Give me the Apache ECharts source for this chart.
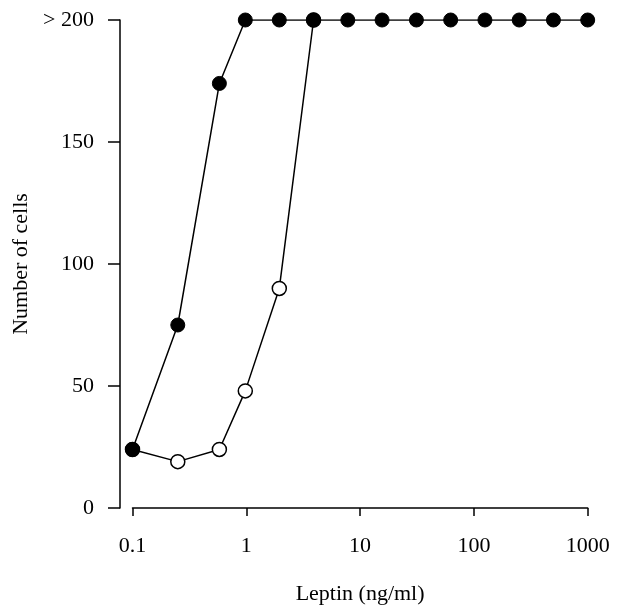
<!DOCTYPE html>
<html>
<head>
<meta charset="utf-8">
<script src="https://cdn.jsdelivr.net/npm/echarts@6/dist/echarts.min.js"></script>
<style>html,body{margin:0;padding:0;background:#fff;}#c{width:623px;height:608px;}</style>
</head>
<body>
<div id="c"></div>
<script>
const openX = [0.1, 0.25, 0.58, 0.98, 1.95, 3.9];
const openY = [24, 19, 24, 48, 90, 200];
const filledX = [0.1, 0.25, 0.58, 0.98, 1.95, 3.9, 7.8, 15.6, 31.25, 62.5, 125, 250, 500, 1000];
const filledY = [24, 75, 174, 200, 200, 200, 200, 200, 200, 200, 200, 200, 200, 200];
const xTicks = [0.1, 1, 10, 100, 1000];
const yTicks = [0, 50, 100, 150, 200];
const yTopLabel = '> 200';

const font = 'Liberation Serif';
const chart = echarts.init(document.getElementById('c'));
chart.setOption({
  animation: false,
  backgroundColor: '#fff',
  grid: {left: 132.5, right: 35.3, top: 20, bottom: 100, containLabel: false, outerBoundsMode: 'none'},
  xAxis: {
    type: 'log', logBase: 10, min: 0.1, max: 1000,
    offset: 8,
    name: 'Leptin (ng/ml)', nameLocation: 'middle', nameGap: 67,
    nameTextStyle: {fontFamily: font, fontSize: 22, color: '#000'},
    axisLine: {lineStyle: {color: '#000', width: 1.5}},
    axisTick: {length: 8, lineStyle: {color: '#000', width: 1.5}},
    minorTick: {show: false},
    splitLine: {show: false},
    axisLabel: {
      fontFamily: font, fontSize: 22, color: '#000', margin: 19,
      formatter: v => { const t = xTicks.find(a => Math.abs(Math.log10(a) - Math.log10(v)) < 1e-6); return t !== undefined ? String(t) : ''; }
    }
  },
  yAxis: {
    type: 'value', min: 0, max: 200, interval: 50,
    offset: 12.5,
    name: 'Number of cells', nameLocation: 'middle', nameGap: 84, nameRotate: 90,
    nameTextStyle: {fontFamily: font, fontSize: 22, color: '#000'},
    axisLine: {show: true, lineStyle: {color: '#000', width: 1.5}},
    axisTick: {show: true, length: 12, lineStyle: {color: '#000', width: 1.5}},
    splitLine: {show: false},
    axisLabel: {
      fontFamily: font, fontSize: 22, color: '#000', margin: 26,
      formatter: v => (v === yTicks[yTicks.length - 1] ? yTopLabel : String(v))
    }
  },
  series: [
    {
      type: 'line', data: openX.map((x, i) => [x, openY[i]]),
      symbol: 'circle', symbolSize: 14,
      lineStyle: {color: '#000', width: 1.5},
      itemStyle: {color: '#fff', borderColor: '#000', borderWidth: 1.5},
      z: 2
    },
    {
      type: 'line', data: filledX.map((x, i) => [x, filledY[i]]),
      symbol: 'circle', symbolSize: 14,
      lineStyle: {color: '#000', width: 1.5},
      itemStyle: {color: '#000', borderColor: '#000', borderWidth: 1},
      z: 3
    }
  ]
});
</script>
</body>
</html>
